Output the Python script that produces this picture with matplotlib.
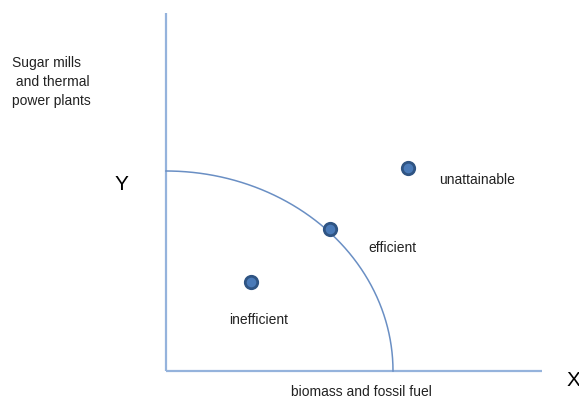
import numpy as np
import matplotlib.pyplot as plt

plt.rcParams['font.family'] = ['Liberation Sans', 'DejaVu Sans']

# frontier intercepts (x, y)
frontier_x = 227
frontier_y = 200

# points: inefficient, efficient, unattainable
point_names = ['inefficient', 'efficient', 'unattainable']
point_x = [85, 164, 242]
point_y = [89, 142, 203]

# axis lengths
axis_x_len = 376
axis_y_len = 358

fig = plt.figure(figsize=(5.79, 4.01), dpi=100)
ax = fig.add_axes([0, 0, 1, 1])
ax.set_xlim(-166, 413)
ax.set_ylim(-30, 371)
ax.axis('off')

# axes
ax.plot([0, axis_x_len], [0, 0], color='#95b3dc', lw=1.6, solid_capstyle='butt')
ax.plot([0, 0], [0, axis_y_len], color='#95b3dc', lw=1.6, solid_capstyle='butt')

# production possibility frontier
t = np.linspace(0, np.pi / 2, 200)
ax.plot(frontier_x * np.cos(t), frontier_y * np.sin(t), color='#6a8fc4', lw=1.1)

ax.scatter(point_x, point_y, s=80, color='#4a7ab8', edgecolor='#2f5483',
           linewidth=2, zorder=3)

fs = 10
ax.text(85 - 22, 89 - 38, 'inefficient', fontsize=fs, color='#222222', va='center')
ax.text(164 + 38, 142 - 19, 'efficient', fontsize=fs, color='#222222', va='center')
ax.text(242 + 31, 203 - 12, 'unattainable', fontsize=fs, color='#222222', va='center')

ax.text(125, -21, 'biomass and fossil fuel', fontsize=fs, color='#222222', va='center')
ax.text(-154, 289, 'Sugar mills\n and thermal\npower plants', fontsize=fs,
        color='#222222', va='center', linespacing=1.45)
ax.text(-45, 186, 'Y', fontsize=15, color='black', va='center', ha='center')
ax.text(407, -9, 'X', fontsize=15, color='black', va='center', ha='center')

fig.savefig('out.png', dpi=100)
